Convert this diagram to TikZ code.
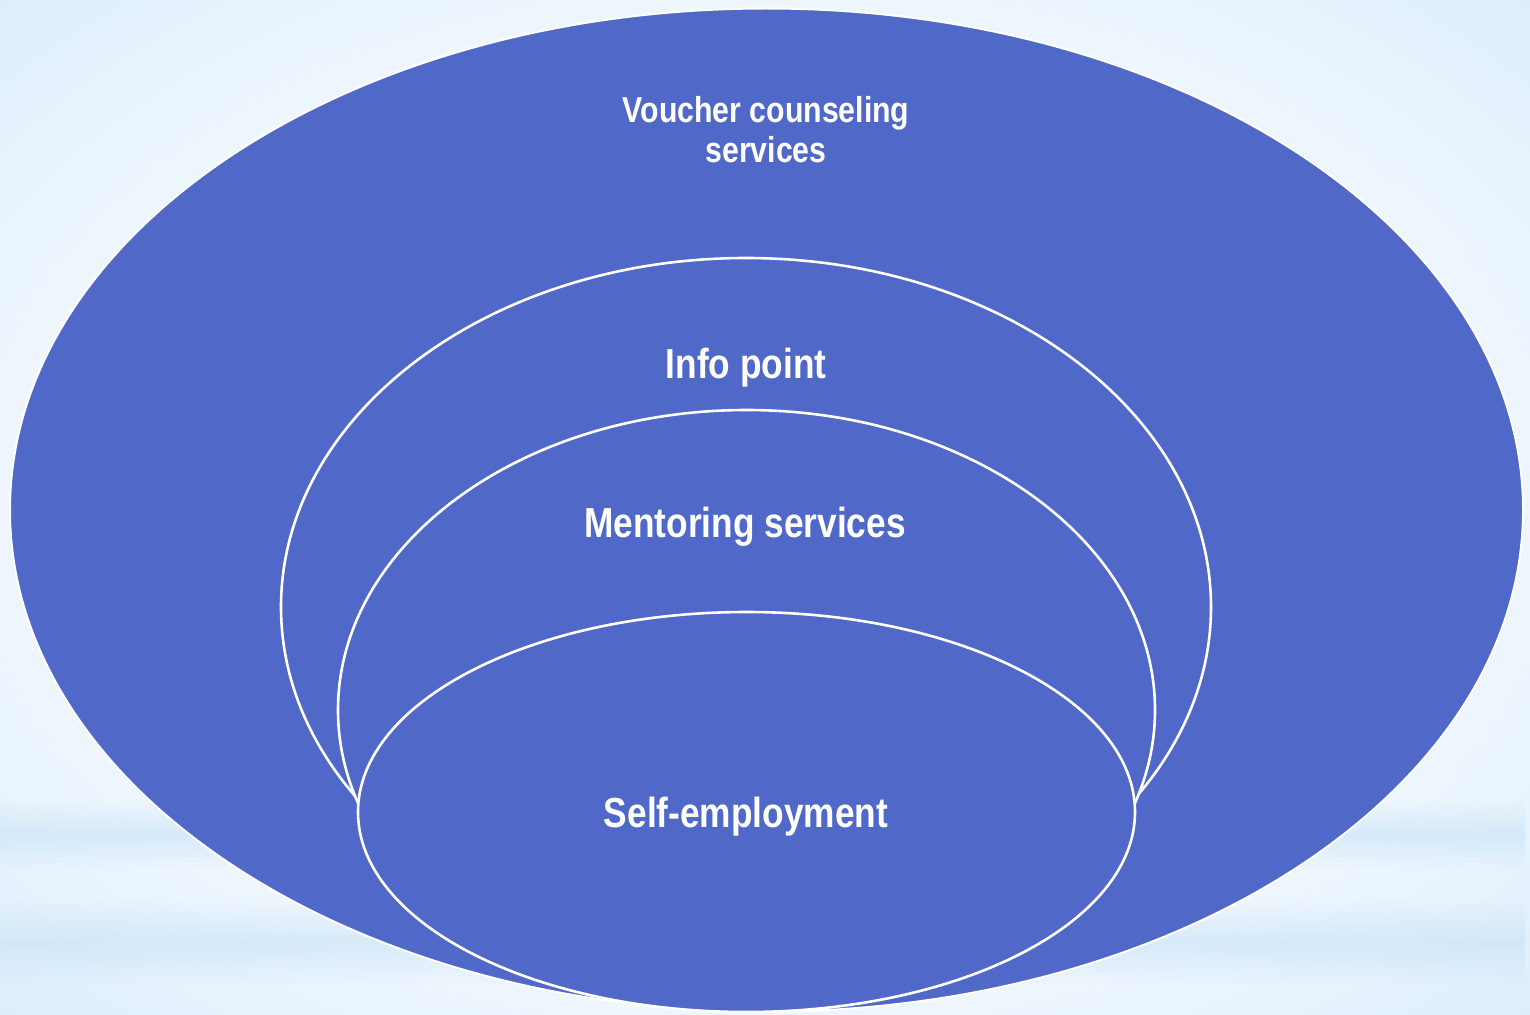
\documentclass[tikz,border=0pt]{standalone}
\usepackage{fontspec}
\newfontfamily\narrowsans{Liberation Sans}[FakeStretch=0.84]
\usetikzlibrary{shapes.geometric,fadings}
\definecolor{ringblue}{RGB}{80,104,200}
\definecolor{bgblue}{RGB}{196,225,248}
\pgfdeclareradialshading{bgglow}{\pgfpoint{0bp}{0bp}}{color(0bp)=(white); color(14bp)=(white); color(52bp)=(bgblue); color(80bp)=(bgblue)}
\tikzfading[name=bandfade, top color=transparent!100, bottom color=transparent!100, middle color=transparent!45]
\tikzset{
  ring/.style={ellipse, draw=white, fill=ringblue, line width=2.6pt, inner sep=0pt, outer sep=0pt},
  ringtext/.style={text=white, font=\narrowsans\bfseries\fontsize{42}{46}\selectfont, anchor=base, align=center}
}
\begin{document}
\begin{tikzpicture}[x=1pt, y=-1pt]
\useasboundingbox (0,0) rectangle (1530,1014);
% background
\shade[shading=bgglow] (0,0) rectangle (1530,1014);
\fill[bgblue, path fading=bandfade] (0,800) rectangle (1530,868);
\fill[bgblue, path fading=bandfade] (0,900) rectangle (1530,985);
% rings
\node[ring, line width=2pt, minimum width=1513pt, minimum height=1003pt] (ring0) at (766.5,510){};
\node[ring, minimum width=930pt, minimum height=698pt] (ring1) at (746,607){};
\node[ring, minimum width=817pt, minimum height=600pt] (ring2) at (746.5,710){};
\node[ring, minimum width=777pt, minimum height=400pt] (ring3) at (746.5,812){};
% labels
\node[ringtext, font=\narrowsans\bfseries\fontsize{36}{39.5}\selectfont] (lbl0) at (766,162) {Voucher counseling\\services};
\node[ringtext] (lbl1) at (746,378) {Info point};
\node[ringtext] (lbl2) at (745,537) {Mentoring services};
\node[ringtext] (lbl3) at (746,827) {Self-employment};
\end{tikzpicture}
\end{document}
